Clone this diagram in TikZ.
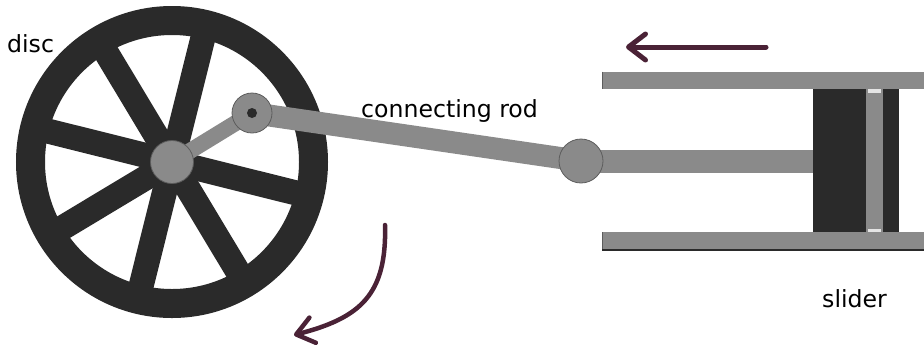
\documentclass[tikz,border=0pt]{standalone}
\usepackage{fontspec}
\setmainfont{DejaVu Sans}
\usetikzlibrary{arrows.meta}
\definecolor{ink}{HTML}{2A2A2A}
\definecolor{steel}{HTML}{8A8A8A}
\definecolor{rim}{HTML}{5C5C5C}
\definecolor{plum}{HTML}{4A2236}
\definecolor{glint}{HTML}{E4E4E4}

\begin{document}
\begin{tikzpicture}[x=1bp,y=-1bp,
  caption/.style={font=\fontsize{23.6bp}{28bp}\selectfont, inner sep=0pt, anchor=base west, text=black},
  spoke/.style={ink, line width=25bp},
  bar/.style={steel, line width=#1, line cap=butt},
  joint/.style={circle, fill=steel, draw=rim, line width=0.8bp, inner sep=0pt, minimum size=#1},
  motion/.style={plum, line width=#1, line cap=round,
    -{Straight Barb[length=17bp,width=26bp,round]}},
]
\useasboundingbox (0,0) rectangle (924,349);

% key points of the mechanism
\coordinate (c-hub)   at (172,162);
\coordinate (c-crank) at (252,113);
\coordinate (c-pin)   at (581,161);
\coordinate (c-face)  at (813,161);

% disc: rim and spokes
\fill[ink, even odd rule] (c-hub) circle[radius=156bp] circle[radius=127bp];
\foreach \a in {-166,-121,-76,14,59,104,149}
  \draw[spoke] (c-hub) -- ++(\a:140);

% cylinder walls
\fill[steel] (602,71.7) rectangle (930,89.3);
\fill[steel] (602,232.3) rectangle (930,250.5);
\draw[rim, line width=1.2bp] (602.6,71.7) -- (602.6,89.3);
\draw[rim, line width=1.2bp] (602.6,232.3) -- (602.6,250.5);
\draw[ink, line width=1.4bp] (602,250) -- (930,250);

% piston
\fill[ink] (813,89.3) rectangle (866,232.3);
\fill[steel] (866,89.3) rectangle (882.5,232.3);
\fill[ink] (882.5,89.3) rectangle (898.5,232.3);
\fill[glint] (867.5,89.3) rectangle (881,93);
\fill[glint] (867.5,228.6) rectangle (881,232.3);

% crank, connecting rod and piston rod
\draw[bar=16bp] (c-hub) -- (c-crank);
\draw[bar=22bp] (c-crank) -- (c-pin);
\draw[bar=23bp] (c-pin) -- (c-face);

% joints
\node[joint=43bp] (hub) at (c-hub) {};
\node[joint=40bp] (crank) at (c-crank) {};
\fill[ink] (crank.center) circle[radius=5bp];
\node[joint=44bp] (pin) at (c-pin) {};

% motion arrows
\coordinate (push-s) at (766,47);
\coordinate (push-e) at (626,47);
\draw[motion=5bp] (push-s) -- (push-e);
\coordinate (spin-s) at (385,225);
\coordinate (spin-e) at (294,335);
\draw[motion=4.5bp] (spin-s) .. controls (387,295) and (360,318) .. (spin-e);

% labels
\node[caption] (disc) at (7,52) {disc};
\node[caption] (rod) at (361,117) {connecting rod};
\node[caption] (slider) at (822,307) {slider};
\end{tikzpicture}
\end{document}
